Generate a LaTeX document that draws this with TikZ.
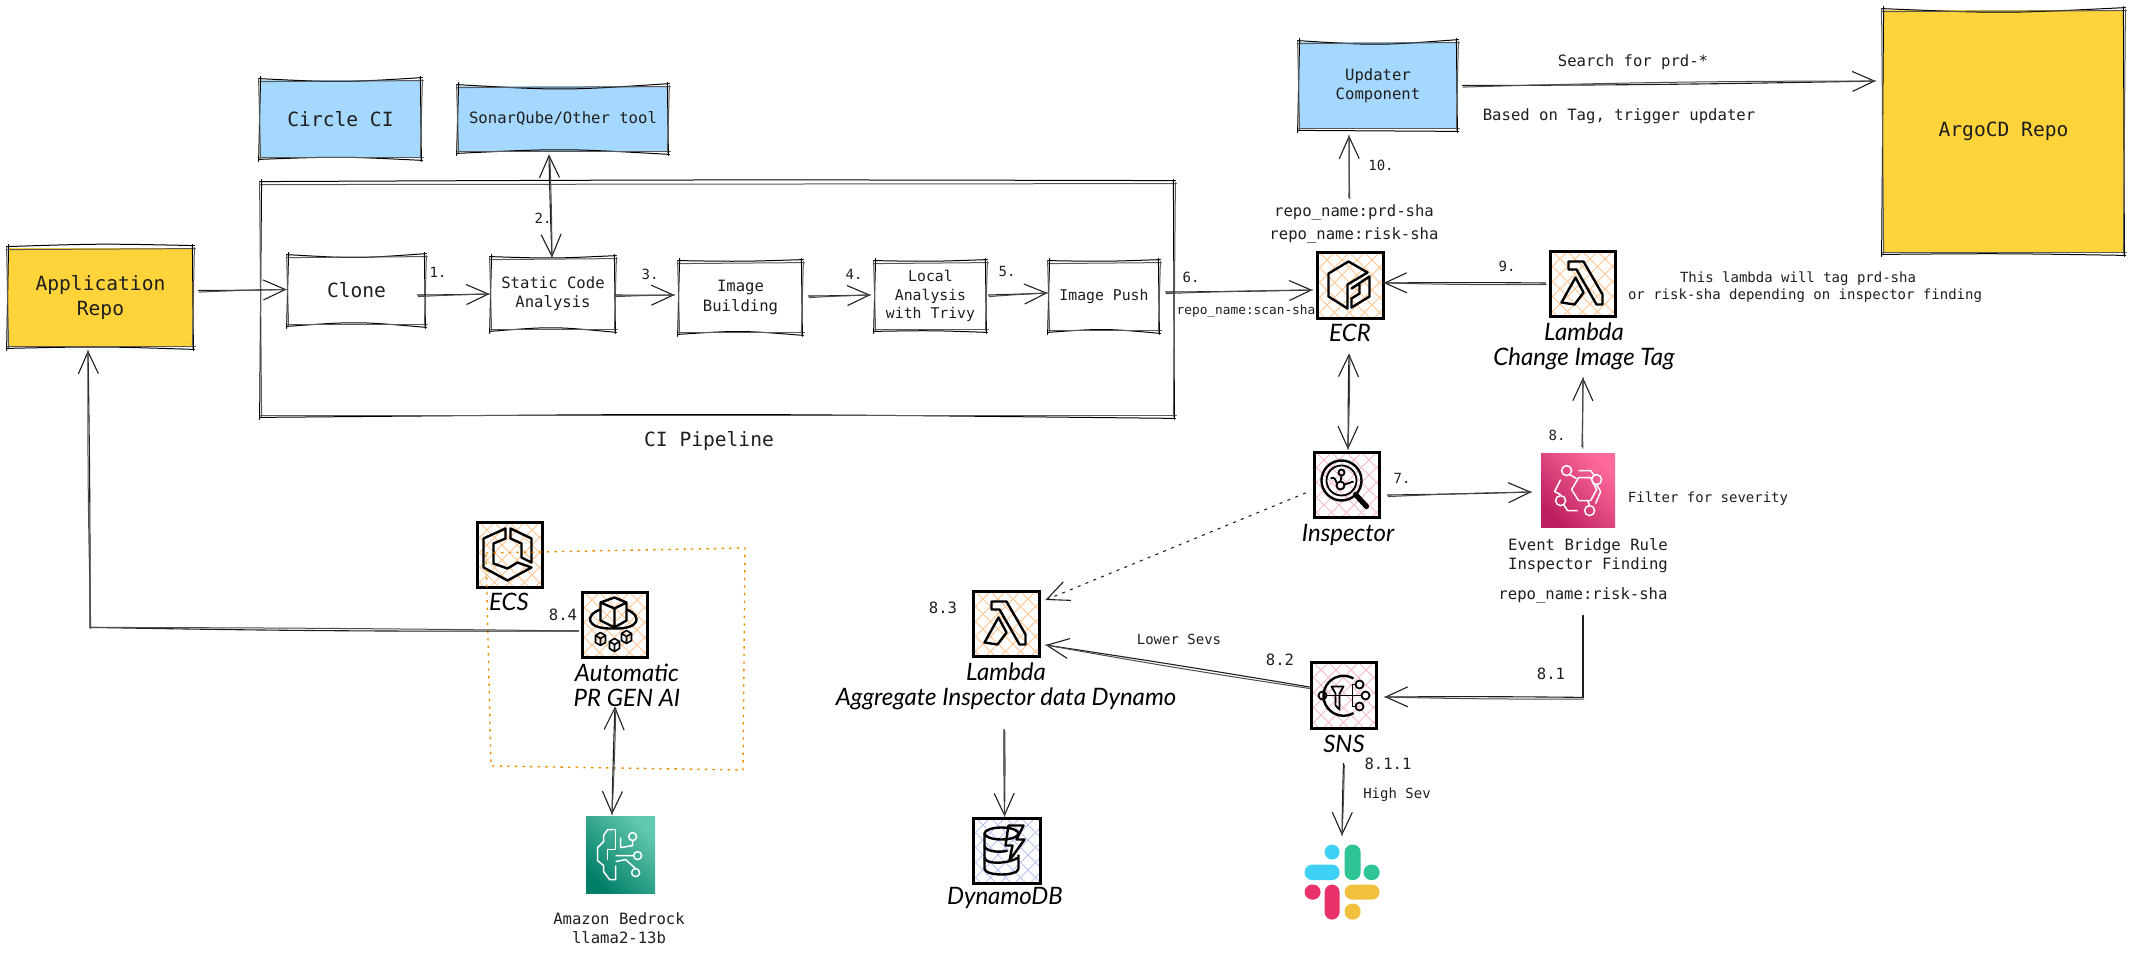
\documentclass[tikz,border=0pt]{standalone}
\usepackage{fontspec}
\setmainfont{DejaVu Sans Mono}
\newfontfamily\handf{Lato}[ItalicFont=* Italic]
\usetikzlibrary{arrows.meta,calc,fit,shadings}
\definecolor{yel}{HTML}{FFD43B}
\definecolor{sky}{HTML}{A5D8FF}
\definecolor{ink}{HTML}{1E1E1E}
\definecolor{hor}{HTML}{FFC48F}
\definecolor{hpi}{HTML}{F5B8CE}
\definecolor{hbl}{HTML}{B9C6F5}
\definecolor{HotEb}{HTML}{FF6A9C}
\definecolor{DarkEb}{HTML}{BC1F5F}
\definecolor{LightBed}{HTML}{63C9AE}
\definecolor{DarkBed}{HTML}{017E68}
\definecolor{grp}{HTML}{F08C00}
\tikzset{
  x=0.5pt,y=-0.5pt,
  tA/.style={font=\fontsize{9.8}{12.5}\selectfont,align=center,text=ink,inner sep=0pt},
  tB/.style={font=\fontsize{7.8}{9.6}\selectfont,align=center,text=ink,inner sep=0pt},
  tB2/.style={font=\fontsize{7.4}{9.2}\selectfont,align=center,text=ink,inner sep=0pt},
  tC/.style={font=\fontsize{7}{8.6}\selectfont,align=center,text=ink,inner sep=0pt},
  tD/.style={font=\fontsize{6.4}{8}\selectfont,align=center,text=ink,inner sep=0pt},
  hw/.style={font=\fontsize{12}{12.5}\handf\itshape,align=center,text=black,inner sep=0pt},
  skA/.style={draw=black,line width=.5pt,line cap=round},
  skB/.style={draw=black!65,line width=.5pt,line cap=round},
  conn/.style={draw=ink,line width=.55pt,line cap=round},
  connb/.style={draw=black!70,line width=.5pt,line cap=round},
  tipb/.style={-{Straight Barb[length=11pt,width=10pt,line width=.55pt]}},
  tipr/.style={{Straight Barb[length=11pt,width=10pt,line width=.55pt]}-{Straight Barb[length=11pt,width=10pt,line width=.55pt]}},
  gl/.style={line width=1.2pt,line join=round,draw=black},
  wgl/.style={line width=.75pt,line join=round,draw=white},
  hatch/.style={path picture={
    \foreach \i in {-75,-60,...,75}{
      \draw[#1,line width=.5pt] ($(path picture bounding box.north west)+(\i,-3)$) -- ++(80,80);
      \draw[#1,line width=.5pt] ($(path picture bounding box.north west)+(\i,77)$) -- ++(80,-80);
    }}},
  frame/.style={draw=black,line width=1.5pt},
}
% name, corners, box style, label style, label
\newcommand\bx[8]{%
  \coordinate (#1-a) at (#2,#3);\coordinate (#1-b) at (#4,#5);
  \node[fit=(#1-a)(#1-b),inner sep=0pt,#6] (#1) {};
  \node[#7] (#1-t) at (#1.center) {#8};}
\newcommand\ic[6]{%
  \coordinate (#1-a) at (#2,#3);\coordinate (#1-b) at (#4,#5);
  \node[fit=(#1-a)(#1-b),inner sep=0pt,#6] (#1) {};}
\newcommand\sk[3]{%
  \draw[skA] ($(#1.north west)+(-1,-1)$) .. controls ($(#1.north)+(0,#2)$) .. ($(#1.north east)+(1,-2)$);
  \draw[skB] ($(#1.north west)+(0,2)$) -- ($(#1.north east)+(2,1)$);
  \draw[skA] ($(#1.south west)+(-1,1)$) .. controls ($(#1.south)+(0,#3)$) .. ($(#1.south east)+(1,2)$);
  \draw[skB] ($(#1.south west)+(0,-1)$) -- ($(#1.south east)+(2,-1)$);
  \draw[skA] ($(#1.north west)+(1,-3)$) -- ($(#1.south west)+(-1,3)$);
  \draw[skB] ($(#1.north west)+(-1,0)$) -- ($(#1.south west)+(1,0)$);
  \draw[skA] ($(#1.north east)+(-1,-3)$) -- ($(#1.south east)+(0,3)$);
  \draw[skB] ($(#1.north east)+(1,0)$) -- ($(#1.south east)+(-1,0)$);}
\newcommand\arr[3][tipb]{%
  \coordinate (s) at #2;\coordinate (e) at #3;
  \draw[conn,#1] (s) to[bend right=.5] (e);
  \draw[connb] ($(s)+(.8,1.6)$) to[bend left=.8] (e);}
\newcommand\lb[5]{\node[#4] (#1) at (#2,#3) {#5};}
\begin{document}
\begin{tikzpicture}
\useasboundingbox (0,0) rectangle (2132,956);
% pipeline and boxes
\ic{pipe}{261}{183}{1174}{416}{}
\sk{pipe}{-3}{-3}
\bx{circle}{260}{80}{421}{158}{fill=sky}{tA}{Circle CI}
\sk{circle}{3}{-2}
\bx{sonar}{458}{86}{668}{152}{fill=sky}{tB}{SonarQube/Other tool}
\sk{sonar}{5}{-4}
\bx{app}{8}{248}{193}{347}{fill=yel}{tA}{Application\\Repo}
\sk{app}{-4}{-1}
\bx{clone}{288}{256}{425}{325}{}{tA}{Clone}
\sk{clone}{3}{-4}
\bx{static}{491}{258}{615}{330}{}{tB}{Static Code\\Analysis}
\sk{static}{1}{-4}
\bx{build}{679}{262}{802}{333}{}{tB}{Image\\Building}
\sk{build}{0}{-3}
\bx{local}{875}{262}{986}{330}{}{tB2}{Local\\Analysis\\with Trivy}
\sk{local}{0}{0}
\bx{push}{1049}{262}{1159}{331}{}{tB2}{Image Push}
\sk{push}{0}{-3}
\bx{updater}{1299}{42}{1457}{129}{fill=sky}{tB}{Updater\\Component}
\sk{updater}{4}{1}
\bx{argo}{1883}{10}{2124}{253}{fill=yel}{tA}{ArgoCD Repo}
\sk{argo}{4}{0}
% icons
\ic{ecr}{1317}{253}{1383}{319}{hatch=hor,frame}
\begin{scope}[shift={(ecr.north west)}]
\draw[gl] (33,10)--(52,21)--(32,33)--(32,57)--(13,45)--(13,22)--cycle;
\draw[gl] (54,25)--(54,45)--(36,56)--(36,47)--(44,42)--(44,32)--(36,37)--cycle;
\end{scope}
\ic{lamc}{1550}{252}{1615}{317}{hatch=hor,frame}
\begin{scope}[shift={(lamc.north west)}]
\draw[gl] (20,11)--(35,11)--(54,44)--(54,54)--(48,54)--(28,19)--(20,19)--cycle;
\draw[gl] (27,27)--(35,42)--(26,54)--(13,52)--cycle;
\end{scope}
\ic{lama}{973}{592}{1039}{657}{hatch=hor,frame}
\begin{scope}[shift={(lama.north west)}]
\draw[gl] (20,11)--(35,11)--(54,44)--(54,54)--(48,54)--(28,19)--(20,19)--cycle;
\draw[gl] (27,27)--(35,42)--(26,54)--(13,52)--cycle;
\end{scope}
\ic{insp}{1314}{453}{1379}{518}{hatch=hpi,frame}
\begin{scope}[shift={(insp.north west)}]
\draw[gl] (29,29) circle[x radius=20,y radius=20];
\draw[gl,line width=.9pt] (29,29) circle[x radius=15,y radius=15];
\draw[gl,line width=.9pt] (29,21) circle[x radius=3,y radius=3] (28,34) circle[x radius=4,y radius=4];
\draw[gl,line width=.9pt] (29,24)--(28,30) (18,27)..controls (22,24) and (24,30)..(24,32) (32,33)--(41,30);
\draw[black,line width=2.6pt,line cap=round] (43,43)--(54,55);
\end{scope}
\ic{sns}{1311}{663}{1376}{729}{hatch=hpi,frame}
\begin{scope}[shift={(sns.north west)}]
\draw[gl] (44,17) arc[start angle=-60,end angle=-300,x radius=20,y radius=20];
\draw[gl,line width=.9pt] (13,34) circle[x radius=4,y radius=4] (50,23) circle[x radius=4,y radius=4] (56,34) circle[x radius=4,y radius=4] (50,45) circle[x radius=4,y radius=4];
\draw[gl,line width=.9pt] (17,34)--(52,34) (43,23)--(46,23) (43,23)--(43,45)--(46,45);
\draw[gl,line width=.9pt] (22,25)--(34,25)--(30,32)--(30,48)--(26,44)--(26,32)--cycle;
\end{scope}
\ic{ecs}{477}{523}{542}{588}{hatch=hor,frame}
\begin{scope}[shift={(ecs.north west)}]
\draw[gl] (30,7)--(8,17)--(8,46)--(32,59)--(56,46)--(42,41)--(32,47)--(18,42)--(18,22)--(30,17)--cycle;
\draw[gl] (35,7)--(56,17)--(56,41)--(46,36)--(46,22)--(35,17)--cycle;
\end{scope}
\ic{prgen}{582}{593}{647}{658}{hatch=hor,frame}
\begin{scope}[shift={(prgen.north west)}]
\draw[gl] (34,6)--(46,11)--(46,29)--(34,36)--(20,29)--(20,11)--cycle (20,11)--(34,17)--(46,11) (34,17)--(34,36);
\draw[gl] (20,18) .. controls (3,24) and (6,38) .. (33,37) .. controls (60,38) and (62,24) .. (46,18);
\foreach \cx/\cy in {20/47,46/45,34/53}{
 \draw[gl,line width=.8pt] (\cx,\cy-6)--(\cx+5,\cy-3)--(\cx+5,\cy+4)--(\cx,\cy+7)--(\cx-5,\cy+4)--(\cx-5,\cy-3)--cycle (\cx-5,\cy-3)--(\cx,\cy)--(\cx+5,\cy-3) (\cx,\cy)--(\cx,\cy+7);}
\end{scope}
\ic{dyn}{973}{818}{1040}{883}{hatch=hbl,frame}
\begin{scope}[shift={(dyn.north west)}]
\draw[gl] (30,17) ellipse[x radius=17,y radius=6];
\draw[gl] (13,17)--(13,52) .. controls (13,60) and (47,60) .. (47,52)--(47,38);
\draw[gl] (13,29) .. controls (13,36) and (32,36) .. (36,34);
\draw[gl] (13,41) .. controls (13,48) and (36,48) .. (47,41);
\draw[gl] (37,9)--(52,9)--(45,23)--(53,23)--(38,44)--(41,29)--(34,29)--cycle;
\end{scope}
% orange dotted group
\coordinate (g1) at (486,553);\coordinate (g2) at (745,548);\coordinate (g3) at (743,770);\coordinate (g4) at (491,766);
\draw[draw=grp,line width=.7pt,dash pattern=on 1.2pt off 2.6pt] (g1)--(g2)--(g3)--(g4)--cycle;
% gradient icons
\ic{eb}{1541}{454}{1615}{528}{top color=HotEb,bottom color=DarkEb,shading angle=-45}
\begin{scope}[shift={(eb.north west)}]
\draw[wgl] (38,24)--(31,36)--(38,47)--(50,47)--(56,36)--(50,24)--cycle;
\draw[wgl] (26,17) circle[x radius=5,y radius=5] (56,26) circle[x radius=5,y radius=5] (20,47) circle[x radius=5,y radius=5] (49,57) circle[x radius=5,y radius=5];
\draw[wgl] (29,21)--(36,25) (38,17)--(50,17)--(54,22) (56,31)--(60,38)--(55,50) (20,41)--(14,38)--(20,26) (23,51)--(27,57)--(37,57) (47,47)--(49,52);
\end{scope}
\ic{bed}{586}{816}{655}{893}{top color=LightBed,bottom color=DarkBed,shading angle=-45}
\begin{scope}[shift={(bed.north west)}]
\draw[wgl] (28,14)--(22,14)--(18,20)--(18,26)--(12,32)--(12,45)--(18,50)--(18,56)--(24,64)--(30,64)--(30,50);
\draw[wgl] (28,14)--(30,14)--(30,34)--(22,34)--(22,44);
\draw[wgl] (47,21) circle[x radius=4,y radius=4] (52,40) circle[x radius=4,y radius=4] (50,57) circle[x radius=4,y radius=4];
\draw[wgl] (47,25)--(47,30)--(35,32)--(35,22) (48,40)--(30,40) (50,53)--(40,44)--(30,46);
\end{scope}
% slack
\ic{slack}{1304}{845}{1380}{920}{}
\begin{scope}[shift={(slack.north west)}]
\definecolor{sb}{HTML}{3ED0F5}\definecolor{sg}{HTML}{2EC496}\definecolor{sr}{HTML}{E93269}\definecolor{sy}{HTML}{F2C03C}
\fill[sb,rounded corners=3.8pt] (1,20) rectangle (36,35.5);
\fill[sb,rounded corners=3.8pt] (21,0) rectangle (36,15);
\fill[sg,rounded corners=3.8pt] (41,0) rectangle (57,35.5);
\fill[sg,rounded corners=3.8pt] (60,20) rectangle (76,35.5);
\fill[sr,rounded corners=3.8pt] (1,40) rectangle (17,55);
\fill[sr,rounded corners=3.8pt] (21,40) rectangle (36,75);
\fill[sy,rounded corners=3.8pt] (41,40) rectangle (76,55);
\fill[sy,rounded corners=3.8pt] (41,59) rectangle (57,75);
\end{scope}
% labels
\lb{n1}{438}{272}{tC}{1.}
\lb{n2}{543}{218}{tC}{2.}
\lb{n3}{650}{274}{tC}{3.}
\lb{n4}{854}{274}{tC}{4.}
\lb{n5}{1007}{272}{tC}{5.}
\lb{n6}{1191}{277}{tC}{6.}
\lb{scan}{1246}{311}{tD}{repo\_name:scan-sha}
\lb{cip}{709}{441}{tA}{CI Pipeline}
\lb{n10}{1381}{165}{tC}{10.}
\lb{prd}{1354}{212}{tB}{repo\_name:prd-sha}
\lb{risk}{1354}{235}{tB}{repo\_name:risk-sha}
\lb{search}{1633}{62}{tB}{Search for prd-*}
\lb{based}{1619}{116}{tB}{Based on Tag, trigger updater}
\lb{n9}{1507}{266}{tC}{9.}
\lb{note}{1805}{287}{tC}{\hspace*{-1em}This lambda will tag prd-sha\\or risk-sha depending on inspector finding}
\lb{ecrl}{1350}{333}{hw}{ECR}
\lb{laml}{1584}{346}{hw}{Lambda\\Change Image Tag}
\lb{n8}{1557}{435}{tC}{8.}
\lb{n7}{1402}{478}{tC}{7.}
\lb{filt}{1708}{499}{tC}{Filter for severity}
\lb{inspl}{1348}{535}{hw}{Inspector}
\lb{ebl}{1588}{556}{tB}{Event Bridge Rule\\Inspector Finding}
\lb{riskb}{1583}{595}{tB}{repo\_name:risk-sha}
\lb{n81}{1551}{674}{tB}{8.1}
\lb{n82}{1280}{660}{tB}{8.2}
\lb{lower}{1179}{639}{tC}{Lower Sevs}
\lb{snsl}{1344}{744}{hw}{SNS}
\lb{n811}{1388}{764}{tB}{8.1.1}
\lb{high}{1397}{795}{tC}{High Sev}
\lb{n83}{943}{608}{tB}{8.3}
\lb{lamal}{1006}{686}{hw}{Lambda\\Aggregate Inspector data Dynamo}
\lb{dynl}{1005}{898}{hw}{DynamoDB}
\lb{bedl}{619}{928}{tB}{Amazon Bedrock\\llama2-13b}
\lb{ecsl}{509}{602}{hw}{ECS}
\lb{n84}{563}{615}{tB}{8.4}
\lb{prl}{627}{685}{hw}{Automatic\\PR GEN AI}
% connectors
\arr{($(app.east)+(5,-7)$)}{($(clone.west)+(-1,-1)$)}
\arr{($(clone.east)+(-8,4.5)$)}{($(static.west)+(-1,0)$)}
\arr{($(static.east)+(0,1)$)}{($(build.west)+(-4,-2.5)$)}
\arr{($(build.east)+(6,-1.5)$)}{($(local.west)+(-4,-1)$)}
\arr{($(local.east)+(2,-1)$)}{($(push.west)+(-1,-3.5)$)}
\arr{($(push.east)+(6,-4.5)$)}{($(ecr.west)+(-3,4)$)}
\arr[tipr]{($(sonar.south)+(-14,2)$)}{($(static.north)+(-1,0)$)}
\arr{($(ecr.north)+(-1,-54)$)}{($(updater.south)+(-29,6)$)}
\arr{($(updater.east)+(5,0)$)}{($(argo.west)+(-7,-50.5)$)}
\arr{($(lamc.west)+(-3,-1.5)$)}{($(ecr.east)+(-1,-3)$)}
\arr[tipr]{($(ecr.south)+(-1,33)$)}{($(insp.north)+(1.5,-2)$)}
\arr{($(insp.east)+(7,9.5)$)}{($(eb.west)+(-9,1)$)}
\arr{($(eb.north)+(4,-7)$)}{($(lamc.south)+(.5,59)$)}
\coordinate (cSNS) at ($(eb.south)+(5,169)$);
\coordinate (s1) at ($(eb.south)+(5,87)$);
\draw[conn] (s1) -- (cSNS);
\arr{(cSNS)}{($(sns.east)+(7,1)$)}
\arr{($(sns.west)+(0,-9)$)}{($(lama.east)+(5,20.5)$)}
\draw[conn,dash pattern=on 1.2pt off 3pt,tipb] ($(insp.west)+(-7,7.5)$) -- ($(lama.east)+(5,-24.5)$);
\arr{($(sns.south)+(0,33)$)}{($(slack.north)+(0,-9)$)}
\arr{($(lama.south)+(-2,71)$)}{($(dyn.north)+(-2,0)$)}
\coordinate (cApp) at ($(app.south)+(-10.5,280)$);
\draw[conn] ($(prgen.west)+(-2,5.5)$) to[bend left=.6] (cApp);
\draw[connb] ($(prgen.west)+(-2,5.5)$) to[bend right=.3] (cApp);
\arr{(cApp)}{($(app.south)+(-12.5,3)$)}
\arr[tipr]{($(prgen.south)+(.5,47)$)}{($(bed.north)+(-8.5,-1)$)}
\end{tikzpicture}
\end{document}
